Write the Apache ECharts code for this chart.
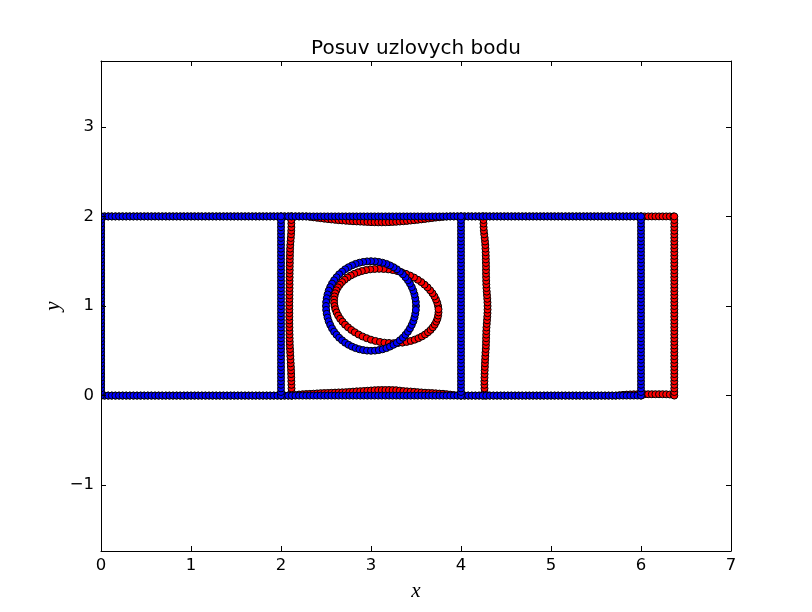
<!DOCTYPE html>
<html><head><meta charset="utf-8">
<script src="https://cdn.jsdelivr.net/npm/echarts@6/dist/echarts.min.js"></script>
<style>html,body{margin:0;padding:0;background:#fff}#c{width:812px;height:612px}</style>
</head><body><div id="c"></div>
<script>
// ---- data ----
const titleText = 'Posuv uzlovych bodu';
const xTicks = [0, 1, 2, 3, 4, 5, 6, 7];
const yMin = -1.735, yMax = 3.735;

// original (blue) mesh nodes
const rowX = [0,0.04,0.08,0.12,0.16,0.2,0.24,0.28,0.32,0.36,0.4,0.44,0.48,0.52,0.56,0.6,0.64,0.68,0.72,0.76,0.8,0.84,0.88,0.92,0.96,
1,1.04,1.08,1.12,1.16,1.2,1.24,1.28,1.32,1.36,1.4,1.44,1.48,1.52,1.56,1.6,1.64,1.68,1.72,1.76,1.8,1.84,1.88,1.92,1.96,
2,2.04,2.08,2.12,2.16,2.2,2.24,2.28,2.32,2.36,2.4,2.44,2.48,2.52,2.56,2.6,2.64,2.68,2.72,2.76,2.8,2.84,2.88,2.92,2.96,
3,3.04,3.08,3.12,3.16,3.2,3.24,3.28,3.32,3.36,3.4,3.44,3.48,3.52,3.56,3.6,3.64,3.68,3.72,3.76,3.8,3.84,3.88,3.92,3.96,
4,4.04,4.08,4.12,4.16,4.2,4.24,4.28,4.32,4.36,4.4,4.44,4.48,4.52,4.56,4.6,4.64,4.68,4.72,4.76,4.8,4.84,4.88,4.92,4.96,
5,5.04,5.08,5.12,5.16,5.2,5.24,5.28,5.32,5.36,5.4,5.44,5.48,5.52,5.56,5.6,5.64,5.68,5.72,5.76,5.8,5.84,5.88,5.92,5.96,6];
const colY = [0,0.04,0.08,0.12,0.16,0.2,0.24,0.28,0.32,0.36,0.4,0.44,0.48,0.52,0.56,0.6,0.64,0.68,0.72,0.76,0.8,0.84,0.88,0.92,0.96,
1,1.04,1.08,1.12,1.16,1.2,1.24,1.28,1.32,1.36,1.4,1.44,1.48,1.52,1.56,1.6,1.64,1.68,1.72,1.76,1.8,1.84,1.88,1.92,1.96,2];
const blueRowY = [0, 2];
const blueColX = [0, 2, 4, 6];
const blueCircleX = [3.5,3.498,3.492,3.483,3.47,3.453,3.433,3.41,3.383,3.354,3.321,3.287,3.25,3.211,3.171,3.129,3.087,3.044,
3,2.956,2.913,2.871,2.829,2.789,2.75,2.713,2.679,2.646,2.617,2.59,2.567,2.547,2.53,2.517,2.508,2.502,
2.5,2.502,2.508,2.517,2.53,2.547,2.567,2.59,2.617,2.646,2.679,2.713,2.75,2.789,2.829,2.871,2.913,2.956,
3,3.044,3.087,3.129,3.171,3.211,3.25,3.287,3.321,3.354,3.383,3.41,3.433,3.453,3.47,3.483,3.492,3.498];
const blueCircleY = [1,1.044,1.087,1.129,1.171,1.211,1.25,1.287,1.321,1.354,1.383,1.41,1.433,1.453,1.47,1.483,1.492,1.498,
1.5,1.498,1.492,1.483,1.47,1.453,1.433,1.41,1.383,1.354,1.321,1.287,1.25,1.211,1.171,1.129,1.087,1.044,
1,0.956,0.913,0.871,0.829,0.789,0.75,0.713,0.679,0.646,0.617,0.59,0.567,0.547,0.53,0.517,0.508,0.502,
0.5,0.502,0.508,0.517,0.53,0.547,0.567,0.59,0.617,0.646,0.679,0.713,0.75,0.789,0.829,0.871,0.913,0.956];

// displaced (red) mesh nodes
const rowExtX = [6.04,6.08,6.12,6.16,6.2,6.24,6.28,6.32,6.36];
const redTopFlatY = 2;
const redBottomFlatY = 0;
const redTopDipX = [2.28,2.32,2.36,2.4,2.44,2.48,2.52,2.56,2.6,2.64,2.68,2.72,2.76,2.8,2.84,2.88,2.92,2.96,3,3.04,3.08,3.12,3.16,3.2,3.24,3.28,3.32,3.36,3.4,3.44,3.48,3.52,3.56,3.6,3.64,3.68,3.72,3.76,3.8,3.84,3.88];
const redTopDipY = [2,1.995,1.99,1.985,1.98,1.975,1.97,1.966,1.962,1.958,1.955,1.952,1.949,1.946,1.944,1.942,1.94,1.938,1.936,1.935,1.934,1.934,1.935,1.936,1.938,1.94,1.943,1.946,1.95,1.954,1.958,1.962,1.967,1.972,1.977,1.982,1.987,1.991,1.995,1.998,2];
const redBottomBumpX = [2.16,2.2,2.24,2.28,2.32,2.36,2.4,2.44,2.48,2.52,2.56,2.6,2.64,2.68,2.72,2.76,2.8,2.84,2.88,2.92,2.96,3,3.04,3.08,3.12,3.16,3.2,3.24,3.28,3.32,3.36,3.4,3.44,3.48,3.52,3.56,3.6,3.64,3.68,3.72,3.76,3.8,3.84,3.88,3.92,3.96];
const redBottomBumpY = [0.005,0.012,0.015,0.017,0.019,0.021,0.024,0.027,0.028,0.029,0.031,0.033,0.035,0.036,0.038,0.041,0.044,0.047,0.049,0.051,0.054,0.057,0.06,0.061,0.062,0.062,0.062,0.061,0.06,0.055,0.05,0.047,0.045,0.042,0.038,0.035,0.032,0.03,0.028,0.025,0.022,0.02,0.016,0.011,0.006,0.002];
const redBottomRightX = [5.76,5.8,5.84,5.88,5.92,5.96,6,6.04,6.08,6.12,6.16,6.2,6.24,6.28,6.32,6.36];
const redBottomRightY = [0.004,0.008,0.011,0.013,0.014,0.015,0.015,0.015,0.015,0.015,0.015,0.015,0.015,0.014,0.012,0.01];
const redColEdgeX = [0, 6.37];
const redCol2X = [2.118,2.118,2.117,2.116,2.115,2.114,2.113,2.112,2.11,2.108,2.106,2.104,2.102,2.1,2.098,2.097,2.096,2.095,2.094,2.094,
2.093,2.093,2.093,2.093,2.093,2.093,2.093,2.094,2.094,2.094,2.095,2.095,2.095,2.096,2.096,2.097,2.097,2.098,2.098,2.099,
2.1,2.101,2.103,2.106,2.109,2.112,2.114,2.115,2.115,2.114,2.112];
const redCol4X = [4.262,4.262,4.261,4.26,4.26,4.261,4.262,4.263,4.265,4.266,4.268,4.27,4.272,4.275,4.277,4.278,4.279,4.28,4.281,4.283,
4.286,4.289,4.292,4.294,4.295,4.295,4.294,4.292,4.289,4.286,4.283,4.281,4.28,4.279,4.278,4.278,4.278,4.277,4.276,4.275,
4.274,4.272,4.27,4.267,4.263,4.258,4.254,4.251,4.25,4.25,4.25];
const redCircleX = [3.745,3.736,3.722,3.705,3.683,3.657,3.628,3.595,3.559,3.52,3.478,3.434,3.388,3.341,3.292,3.242,3.191,3.14,
3.09,3.04,2.991,2.944,2.898,2.855,2.813,2.775,2.739,2.707,2.678,2.653,2.632,2.615,2.602,2.594,2.59,2.59,
2.595,2.604,2.618,2.635,2.657,2.683,2.712,2.745,2.781,2.82,2.862,2.906,2.952,2.999,3.049,3.099,3.149,3.2,
3.25,3.3,3.349,3.396,3.442,3.486,3.527,3.565,3.601,3.633,3.662,3.687,3.708,3.725,3.738,3.746,3.75,3.75];
const redCircleY = [1,1.036,1.072,1.107,1.142,1.175,1.208,1.238,1.267,1.293,1.318,1.34,1.359,1.376,1.39,1.401,1.409,1.413,
1.415,1.413,1.409,1.401,1.39,1.376,1.359,1.34,1.318,1.293,1.267,1.238,1.208,1.175,1.142,1.107,1.072,1.036,
1,0.964,0.928,0.893,0.858,0.825,0.792,0.762,0.733,0.707,0.682,0.66,0.641,0.624,0.61,0.599,0.591,0.587,
0.585,0.587,0.591,0.599,0.61,0.624,0.641,0.66,0.682,0.707,0.733,0.762,0.792,0.825,0.858,0.893,0.928,0.964];

// ---- build point tables ----
const blue = [];
blueRowY.forEach(y => rowX.forEach(x => blue.push([x, y])));
blueColX.forEach(x => colY.forEach(y => blue.push([x, y])));
blueCircleX.forEach((x, i) => blue.push([x, blueCircleY[i]]));

const red = [];
const redRowX = rowX.concat(rowExtX);
const dipLo = redTopDipX[0], dipHi = redTopDipX[redTopDipX.length - 1];
const bumpLo = redBottomBumpX[0], bumpHi = redBottomBumpX[redBottomBumpX.length - 1];
const rightLo = redBottomRightX[0];
redRowX.forEach(x => { if (x < dipLo || x > dipHi) red.push([x, redTopFlatY]); });
redTopDipX.forEach((x, i) => red.push([x, redTopDipY[i]]));
redRowX.forEach(x => { if ((x < bumpLo || x > bumpHi) && x < rightLo) red.push([x, redBottomFlatY]); });
redBottomBumpX.forEach((x, i) => red.push([x, redBottomBumpY[i]]));
redBottomRightX.forEach((x, i) => red.push([x, redBottomRightY[i]]));
redColEdgeX.forEach(x => colY.forEach(y => red.push([x, y])));
redCol2X.forEach((x, i) => red.push([x, colY[i]]));
redCol4X.forEach((x, i) => red.push([x, colY[i]]));
redCircleX.forEach((x, i) => red.push([x, redCircleY[i]]));

// ---- chart ----
const FONT = 'DejaVu Sans';
const GRID = { left: 101, right: 81, top: 61, bottom: 61 };
const lineStyle = { color: '#000', width: 1 };
function baseAxis(extra) {
  return Object.assign({
    type: 'value', z: 10,
    splitLine: { show: false },
    axisLine: { show: true, onZero: false, lineStyle: lineStyle },
    axisTick: { show: true, inside: true, length: 5, lineStyle: lineStyle }
  }, extra);
}
const fmt = v => (Math.abs(v - Math.round(v)) < 1e-9 ? String(Math.round(v)).replace('-', '\u2212') : '');
const labelStyle = { color: '#000', fontFamily: FONT, fontSize: 16.5 };
const nameStyle = { color: '#000', fontFamily: 'Liberation Serif', fontStyle: 'italic', fontSize: 21 };

const chart = echarts.init(document.getElementById('c'), null, { renderer: 'canvas' });
chart.setOption({
  animation: false,
  backgroundColor: '#fff',
  title: {
    text: titleText, left: 416, top: 39, textAlign: 'center', padding: 0,
    textStyle: { fontFamily: FONT, fontSize: 20, fontWeight: 'normal', color: '#000' }
  },
  grid: Object.assign({ containLabel: false }, GRID),
  // white band outside the plot frame: markers are clipped at the axes like the reference
  graphic: [
    { type: 'rect', z: 5, silent: true,
      shape: { x: GRID.left - 12, y: GRID.top, width: 12, height: 612 - GRID.top - GRID.bottom },
      style: { fill: '#fff' } }
  ],
  xAxis: [
    baseAxis({ position: 'bottom', min: xTicks[0], max: xTicks[xTicks.length - 1], interval: 1,
      axisLabel: Object.assign({ margin: 6, formatter: fmt }, labelStyle),
      name: 'x', nameLocation: 'middle', nameGap: 30, nameMoveOverlap: false, nameTextStyle: nameStyle }),
    baseAxis({ position: 'top', min: xTicks[0], max: xTicks[xTicks.length - 1], interval: 1,
      axisLabel: { show: false } })
  ],
  yAxis: [
    baseAxis({ position: 'left', min: yMin, max: yMax,
      axisLabel: Object.assign({ margin: 7, formatter: fmt, showMinLabel: false, showMaxLabel: false }, labelStyle),
      name: 'y', nameLocation: 'middle', nameGap: 37, nameRotate: 90, nameMoveOverlap: false, nameTextStyle: nameStyle }),
    baseAxis({ position: 'right', min: yMin, max: yMax, axisLabel: { show: false } })
  ],
  series: [
    { type: 'scatter', data: red, symbol: 'circle', symbolSize: 7, silent: true, z: 2,
      itemStyle: { color: '#ff0000', borderColor: '#000', borderWidth: 1, opacity: 1 },
      emphasis: { disabled: true } },
    { type: 'scatter', data: blue, symbol: 'circle', symbolSize: 7, silent: true, z: 3,
      itemStyle: { color: '#0000ff', borderColor: '#000', borderWidth: 1, opacity: 1 },
      emphasis: { disabled: true } }
  ]
});
</script></body></html>
